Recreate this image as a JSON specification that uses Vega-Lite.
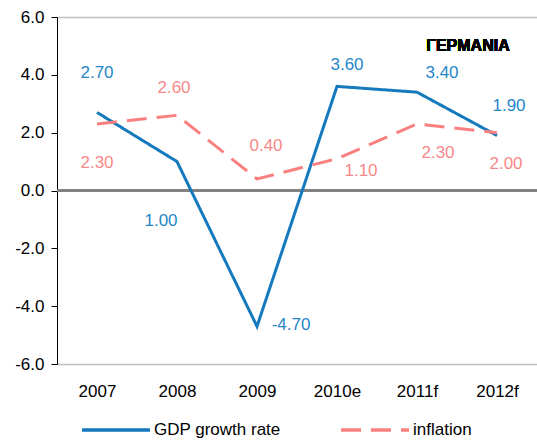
{
  "$schema": "https://vega.github.io/schema/vega-lite/v6.json",
  "width": 480,
  "height": 347,
  "autosize": {"type": "none"},
  "padding": {"left": 57, "top": 17, "right": 0, "bottom": 77},
  "config": {
    "font": "Liberation Sans",
    "view": {"stroke": null},
    "locale": {"number": {"decimal": ".", "thousands": ",", "grouping": [3], "currency": ["$", ""], "minus": "-"}}
  },
  "data": {
    "values": [
      {"year": "2007", "series": "GDP growth rate", "value": 2.7},
      {"year": "2008", "series": "GDP growth rate", "value": 1.0},
      {"year": "2009", "series": "GDP growth rate", "value": -4.7},
      {"year": "2010e", "series": "GDP growth rate", "value": 3.6},
      {"year": "2011f", "series": "GDP growth rate", "value": 3.4},
      {"year": "2012f", "series": "GDP growth rate", "value": 1.9},
      {"year": "2007", "series": "inflation", "value": 2.3},
      {"year": "2008", "series": "inflation", "value": 2.6},
      {"year": "2009", "series": "inflation", "value": 0.4},
      {"year": "2010e", "series": "inflation", "value": 1.1},
      {"year": "2011f", "series": "inflation", "value": 2.3},
      {"year": "2012f", "series": "inflation", "value": 2.0}
    ]
  },
  "encoding": {
    "x": {
      "field": "year", "type": "ordinal", "sort": null,
      "scale": {"type": "point", "padding": 0.5},
      "axis": {"title": null, "domain": false, "ticks": false, "tickSize": 0, "labelAngle": 0, "labelFontSize": 17, "labelColor": "#000000", "labelPadding": 19}
    },
    "y": {
      "field": "value", "type": "quantitative",
      "scale": {"domain": [-6, 6], "nice": false, "zero": false},
      "axis": {
        "title": null, "values": [-6, -4, -2, 0, 2, 4, 6], "format": ".1f",
        "labelFontSize": 17, "labelColor": "#000000", "labelPadding": 7,
        "domainColor": "#000000", "tickColor": "#000000", "tickSize": 6,
        "grid": true, "gridColor": "#c0c0c0", "gridWidth": 1.5,
        "gridOpacity": {"condition": {"test": "abs(datum.value) == 6", "value": 1}, "value": 0}
      }
    }
  },
  "layer": [
    {
      "mark": {"type": "rule", "color": "#808080", "strokeWidth": 1.5},
      "encoding": {"y": {"datum": 0}, "x": null}
    },
    {
      "mark": {"type": "line", "strokeWidth": 3},
      "encoding": {
        "color": {
          "field": "series", "type": "nominal",
          "scale": {"domain": ["GDP growth rate", "inflation"], "range": ["#1479bd", "#fa8080"]},
          "legend": {
            "title": null, "orient": "none", "legendX": 23, "legendY": 377,
            "direction": "horizontal", "columns": 2, "columnPadding": 53,
            "symbolType": "stroke", "symbolSize": 4624, "symbolStrokeWidth": 3.5,
            "labelFontSize": 17, "labelColor": "#000000", "labelOffset": 2
          }
        },
        "strokeDash": {
          "field": "series", "type": "nominal",
          "scale": {"domain": ["GDP growth rate", "inflation"], "range": [[1, 0], [20, 10]]}
        }
      }
    },
    {
      "transform": [{"filter": "datum.series == 'GDP growth rate' && datum.year == '2007'"}],
      "mark": {"type": "text", "dx": 0, "dy": -39, "fontSize": 17, "color": "#1f86c8"},
      "encoding": {"text": {"field": "value", "type": "quantitative", "format": ".2f"}}
    },
    {
      "transform": [{"filter": "datum.series == 'GDP growth rate' && datum.year == '2008'"}],
      "mark": {"type": "text", "dx": -16, "dy": 59, "fontSize": 17, "color": "#1f86c8"},
      "encoding": {"text": {"field": "value", "type": "quantitative", "format": ".2f"}}
    },
    {
      "transform": [{"filter": "datum.series == 'GDP growth rate' && datum.year == '2009'"}],
      "mark": {"type": "text", "dx": 34, "dy": -1, "fontSize": 17, "color": "#1f86c8"},
      "encoding": {"text": {"field": "value", "type": "quantitative", "format": ".2f"}}
    },
    {
      "transform": [{"filter": "datum.series == 'GDP growth rate' && datum.year == '2010e'"}],
      "mark": {"type": "text", "dx": 10, "dy": -21, "fontSize": 17, "color": "#1f86c8"},
      "encoding": {"text": {"field": "value", "type": "quantitative", "format": ".2f"}}
    },
    {
      "transform": [{"filter": "datum.series == 'GDP growth rate' && datum.year == '2011f'"}],
      "mark": {"type": "text", "dx": 25, "dy": -19, "fontSize": 17, "color": "#1f86c8"},
      "encoding": {"text": {"field": "value", "type": "quantitative", "format": ".2f"}}
    },
    {
      "transform": [{"filter": "datum.series == 'GDP growth rate' && datum.year == '2012f'"}],
      "mark": {"type": "text", "dx": 12, "dy": -30, "fontSize": 17, "color": "#1f86c8"},
      "encoding": {"text": {"field": "value", "type": "quantitative", "format": ".2f"}}
    },
    {
      "transform": [{"filter": "datum.series == 'inflation' && datum.year == '2007'"}],
      "mark": {"type": "text", "dx": 0, "dy": 39, "fontSize": 17, "color": "#f78888"},
      "encoding": {"text": {"field": "value", "type": "quantitative", "format": ".2f"}}
    },
    {
      "transform": [{"filter": "datum.series == 'inflation' && datum.year == '2008'"}],
      "mark": {"type": "text", "dx": -3, "dy": -27, "fontSize": 17, "color": "#f78888"},
      "encoding": {"text": {"field": "value", "type": "quantitative", "format": ".2f"}}
    },
    {
      "transform": [{"filter": "datum.series == 'inflation' && datum.year == '2009'"}],
      "mark": {"type": "text", "dx": 9, "dy": -33, "fontSize": 17, "color": "#f78888"},
      "encoding": {"text": {"field": "value", "type": "quantitative", "format": ".2f"}}
    },
    {
      "transform": [{"filter": "datum.series == 'inflation' && datum.year == '2010e'"}],
      "mark": {"type": "text", "dx": 24, "dy": 12, "fontSize": 17, "color": "#f78888"},
      "encoding": {"text": {"field": "value", "type": "quantitative", "format": ".2f"}}
    },
    {
      "transform": [{"filter": "datum.series == 'inflation' && datum.year == '2011f'"}],
      "mark": {"type": "text", "dx": 21, "dy": 29, "fontSize": 17, "color": "#f78888"},
      "encoding": {"text": {"field": "value", "type": "quantitative", "format": ".2f"}}
    },
    {
      "transform": [{"filter": "datum.series == 'inflation' && datum.year == '2012f'"}],
      "mark": {"type": "text", "dx": 9, "dy": 31, "fontSize": 17, "color": "#f78888"},
      "encoding": {"text": {"field": "value", "type": "quantitative", "format": ".2f"}}
    },
    {
      "mark": {"type": "text", "text": "ΓΕΡΜΑΝΙΑ", "fontSize": 16, "fontWeight": "bold", "color": "#000000", "dx": -29},
      "encoding": {"x": {"datum": "2012f"}, "y": {"datum": 5}}
    }
  ]
}
